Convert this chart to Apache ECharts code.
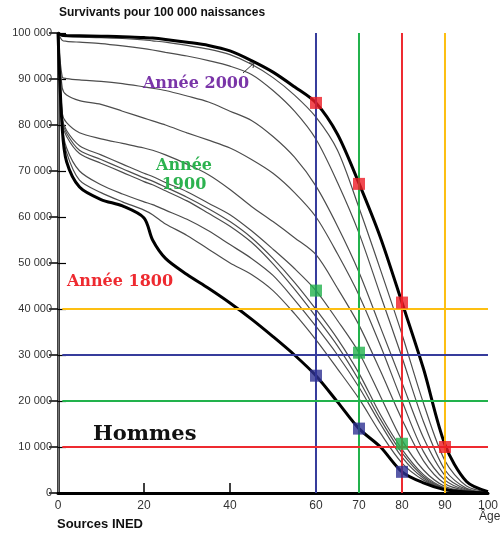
<!DOCTYPE html>
<html><head><meta charset="utf-8">
<script src="https://cdn.jsdelivr.net/npm/echarts@6/dist/echarts.min.js"></script>
<style>html,body{margin:0;padding:0;background:#fff;}#c{width:501px;height:534px;}</style>
</head><body><div id="c"></div>
<script>
// Ages (years) and survivors (thousands, per 100 000 births)
const ages = [0,1,2,5,10,15,20,22,25,30,35,40,45,50,55,60,65,70,75,80,85,90,95,100];
const y1800 = [100,79,72,66.5,63.8,62.4,59.8,55,51,47.5,44.5,41.3,37.8,34,30,25.5,19.8,14,10,4.6,2.2,0.7,0.2,0];
const yL0 = [100,79.5,74,68,65.3,63.3,61.5,60.5,58.5,56,53,50,47.5,44,39,33.3,27,20.5,13,6.5,2.8,0.8,0.2,0];
const yL1 = [100,80,75,70,67,65,63.3,62.7,61.5,59.5,57,54,51,47.3,42,36.2,30,23,15,7.8,3.2,0.9,0.3,0];
const yL2 = [100,80.5,77.5,73.8,71.7,69.7,67.7,67,65.7,63.5,60.8,58,54.5,49.8,44.3,38.3,32,24.5,16,8.7,3.6,1,0.3,0];
const yL3 = [100,81,78.2,74.5,72.5,70.5,68.5,67.8,66.5,64.3,61.8,59,55.5,51,45.8,39.9,33.5,26,17,9.5,4,1.1,0.3,0];
const y1900 = [100,81.5,78.8,75.5,73.5,71.5,69.5,68.8,67.5,65.5,63,60.5,57,53,48.8,44,37.5,30.5,21,11.5,5,1.4,0.4,0];
const yTa = [100,82.5,80.5,78.3,77,76,75,74.5,73.5,71.5,69.2,66,62.3,59,55.5,51.8,44.5,36.5,26.5,16,7,2,0.5,0];
const yTb = [100,88,86.5,85.3,84.5,83,81.5,80.9,80,78.3,76.7,75,72.5,69.5,65.3,60,52,43,32,20,9,2.8,0.6,0.05];
const yTc = [100,90.4,90.1,89.8,89.5,89,88.3,88,87.5,86.3,85,83,81,77.5,73,66.7,58,48,36,24,12,3.8,0.8,0.05];
const yTd = [100,98.4,98.2,98,97.7,97.2,96.6,96.3,95.8,95,94,92.8,91,87.5,83,76.9,67.5,56.5,43,29.5,15.5,5,1,0.1];
const yTe = [100,99.3,99.2,99.1,99,98.8,98.5,98.3,98,97.3,96.5,95.3,93.2,90.3,86.5,81.7,74.5,62,48.5,34.5,19.5,7,1.5,0.2];
const y2000 = [100,99.5,99.45,99.4,99.3,99.2,99,98.9,98.6,98,97.3,96.1,94,91.5,88.3,84.8,78,67.3,55.5,41.4,27,10.5,2.5,0.3];

const thinCurves = [yL0,yL1,yL2,yL3,y1900,yTa,yTb,yTc,yTd,yTe];
const thickCurves = [y1800,y2000];

const vLineAges = [60,70,80,90];
const vLineColors = ['#363c9c','#22b24c','#ee2a30','#fdbf12'];
const hLineValues = [40,30,20,10];
const hLineColors = ['#fdbf12','#363c9c','#22b24c','#ee2a30'];

const redPts = [[60,84.8],[70,67.2],[80,41.4],[90,10]];
const greenPts = [[60,44],[70,30.5],[80,10.7]];
const bluePts = [[60,25.5],[70,14],[80,4.6]];

const xLabelAges = [0,20,40,60,70,80,90,100];
const xTickAges = [20,40,60,70,80,90];

function pairs(arr){ return ages.map((a,i)=>[a,arr[i]]); }

const series = [];
thinCurves.forEach(c => series.push({type:'line', data:pairs(c), symbol:'none', smooth:0.3,
  lineStyle:{color:'#4d4d4d', width:1.2}, z:3, silent:true}));
thickCurves.forEach(c => series.push({type:'line', data:pairs(c), symbol:'none', smooth:0.3,
  lineStyle:{color:'#000', width:3}, z:4, silent:true}));
vLineAges.forEach((a,i) => series.push({type:'line', data:[[a,0],[a,100]], symbol:'none',
  lineStyle:{color:vLineColors[i], width:2}, z:5, silent:true}));
hLineValues.forEach((v,i) => series.push({type:'line', data:[[1,v],[100,v]], symbol:'none',
  lineStyle:{color:hLineColors[i], width:2}, z:5, silent:true}));
[[redPts,'#ed1c24'],[greenPts,'#22b14c'],[bluePts,'#2e3192']].forEach(([d,col]) =>
  series.push({type:'scatter', data:d, symbol:'rect', symbolSize:12, itemStyle:{color:col}, z:6, silent:true}));

const chart = echarts.init(document.getElementById('c'));
chart.setOption({
  animation:false,
  grid:{left:58, right:12, top:33, bottom:41},
  xAxis:[{type:'value', min:0, max:100, interval:10,
    axisLine:{lineStyle:{color:'#000', width:2}},
    axisTick:{inside:true, length:10, lineStyle:{color:'#000', width:1.5}, customValues:xTickAges},
    axisLabel:{customValues:xLabelAges, color:'#333', fontSize:12, fontFamily:'Liberation Sans', margin:7},
    splitLine:{show:false}},
    {type:'value', position:'top', min:0, max:100,
    axisLine:{lineStyle:{color:'#000', width:3}}, axisTick:{show:false}, axisLabel:{show:false}, splitLine:{show:false}}],
  yAxis:[{type:'value', min:0, max:100, interval:10,
    axisLine:{show:true, lineStyle:{color:'#000', width:2.5}},
    axisTick:{show:true, inside:true, length:8, lineStyle:{color:'#000', width:1.2}},
    axisLabel:{color:'#333', fontSize:11, fontFamily:'Liberation Sans', margin:6,
      formatter:v => v===0 ? '0' : v + ' 000'},
    splitLine:{show:false}},
    {type:'value', position:'right', min:0, max:100, interval:10,
    axisLine:{show:true, lineStyle:{color:'#777', width:1}},
    axisTick:{show:true, inside:true, length:9, lineStyle:{color:'#000', width:1.5}},
    axisLabel:{show:false}, splitLine:{show:false}}],
  series:series,
  graphic:[
    {type:'text', left:59, top:7, style:{text:'Survivants pour 100 000 naissances', font:'bold 12px "Liberation Sans"', fill:'#111'}},
    {type:'text', left:57, top:518, style:{text:'Sources INED', font:'bold 13px "Liberation Sans"', fill:'#111'}},
    {type:'text', left:479, top:511, style:{text:'Âge', font:'12px "Liberation Sans"', fill:'#333'}},
    {type:'text', x:196, y:84, style:{text:'Année 2000', font:'bold 16px "DejaVu Serif"', fill:'#7a35a8', align:'center', verticalAlign:'middle'}, z:10},
    {type:'text', x:184, y:166, style:{text:'Année', font:'bold 16px "DejaVu Serif"', fill:'#2cb24f', align:'center', verticalAlign:'middle'}, z:10},
    {type:'text', x:184, y:185, style:{text:'1900', font:'bold 16px "DejaVu Serif"', fill:'#2cb24f', align:'center', verticalAlign:'middle'}, z:10},
    {type:'text', x:120, y:282, style:{text:'Année 1800', font:'bold 16px "DejaVu Serif"', fill:'#ee2a30', align:'center', verticalAlign:'middle'}, z:10},
    {type:'text', x:93, y:435, style:{text:'Hommes', font:'bold 21px "DejaVu Serif"', fill:'#111', verticalAlign:'middle'}, z:10},
    {type:'polyline', shape:{points:[[243,73],[254,63]]}, style:{stroke:'#333', lineWidth:1}, z:10},
    {type:'polyline', shape:{points:[[249,63],[254,63],[253,68]]}, style:{stroke:'#333', lineWidth:1, fill:null}, z:10}
  ]
});
</script></body></html>
